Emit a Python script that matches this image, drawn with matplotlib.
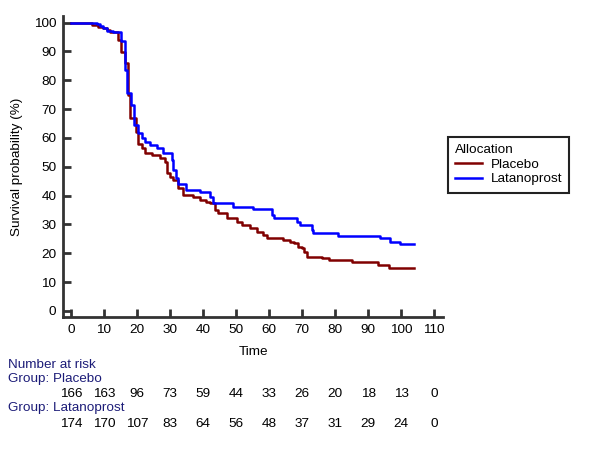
import numpy as np
import matplotlib
matplotlib.use("Agg")
import matplotlib.pyplot as plt
from matplotlib.transforms import blended_transform_factory

plt.rcParams['font.family'] = ['Liberation Sans', 'DejaVu Sans']

# ---- Kaplan-Meier steps ----
placebo_t = [0, 6.3, 8.3, 9.8, 10.8, 11.8, 14.3, 15.3, 16.4, 17.4, 17.9, 19.6, 20.4,
             21.4, 22.4, 24.5, 27, 28.5, 29, 30, 31, 32.5, 34, 37, 39, 41, 42, 43.6,
             44.6, 47.2, 50.2, 51.7, 54.2, 56.3, 58.3, 59.3, 64.3, 66.4, 67.4, 68.9,
             69.9, 70.5, 71.4, 76, 78, 85, 93, 96.2, 104]
placebo_s = [100, 99.2, 98.6, 98, 97.4, 96.8, 93.9, 89.9, 85.8, 75, 67, 62, 58,
             56.4, 54.7, 54, 53, 51.8, 47.7, 46.5, 45.4, 42.5, 40.2, 39.5, 38.5, 37.8, 37.3, 35,
             33.9, 32.1, 31, 29.8, 28.7, 27.5, 26.3, 25.2, 24.6, 24, 23.5, 22.3,
             21.7, 20.5, 18.8, 18.2, 17.7, 16.9, 16, 14.8, 14.8]

latano_t = [0, 7.8, 8.8, 9.8, 10.8, 12.8, 15.3, 16.4, 17.1, 18.2, 19.1, 20.4, 21.4,
            22.4, 23.9, 26, 28, 30.5, 31, 31.8, 32.5, 35, 39, 42, 43, 49, 55, 60.8,
            61.5, 68.4, 69.4, 72.9, 73.4, 81, 93.6, 96.7, 99.7, 104]
latano_s = [100, 99.6, 98.8, 98.2, 97.2, 96.8, 93.7, 83.5, 75.4, 71.4, 64.5, 61.6, 59.9,
            58.7, 57.5, 56.4, 54.6, 52.3, 49, 46, 44, 42, 41.4, 39.6, 37.3, 36.2, 35.2, 33.3,
            32.1, 31, 29.8, 28.1, 26.9, 26, 25.2, 24, 23.2, 23.2]

risk_times = [0, 10, 20, 30, 40, 50, 60, 70, 80, 90, 100, 110]
risk_placebo = [166, 163, 96, 73, 59, 44, 33, 26, 20, 18, 13, 0]
risk_latano = [174, 170, 107, 83, 64, 56, 48, 37, 31, 29, 24, 0]

fs = 9.7
fig = plt.figure(figsize=(6, 4.5), dpi=100)
ax = fig.add_axes([0.1055, 0.2956, 0.6325, 0.6684])

ax.step(placebo_t, placebo_s, where='post', color='#800000', lw=1.8, label='Placebo')
ax.step(latano_t, latano_s, where='post', color='#0000ff', lw=1.8, label='Latanoprost')

ax.set_xlim(-2.3, 112.6)
ax.set_ylim(-2.1, 102.2)
ax.set_xticks(risk_times)
ax.set_yticks(range(0, 101, 10))
for s in ['top', 'right']:
    ax.spines[s].set_visible(False)
for s in ['left', 'bottom']:
    ax.spines[s].set_linewidth(2)
    ax.spines[s].set_color('#333333')
ax.tick_params(direction='in', length=6, width=2, color='#333333',
               labelsize=fs, pad=5)
ax.set_xlabel('Time', fontsize=fs, labelpad=7)
ax.set_ylabel('Survival probability (%)', fontsize=fs, labelpad=8)

leg = ax.legend(title='Allocation', loc='upper left', bbox_to_anchor=(0.7467, 0.6956),
                bbox_transform=fig.transFigure, fontsize=fs, title_fontsize=fs,
                fancybox=False, framealpha=1, edgecolor='#222222', borderaxespad=0,
                handlelength=2.0, borderpad=0.55, labelspacing=0.15, handletextpad=0.6)
leg._legend_box.align = 'left'
leg.get_frame().set_linewidth(1.5)

# ---- number at risk table ----
navy = '#1c1c78'
tr = blended_transform_factory(ax.transData, fig.transFigure)
fig.text(8 / 600, 1 - 365 / 450, 'Number at risk', color=navy, fontsize=fs, va='center')
fig.text(8 / 600, 1 - 379 / 450, 'Group: Placebo', color=navy, fontsize=fs, va='center')
fig.text(8 / 600, 1 - 408 / 450, 'Group: Latanoprost', color=navy, fontsize=fs, va='center')
for t, a, b in zip(risk_times, risk_placebo, risk_latano):
    ax.text(t, 1 - 394 / 450, str(a), transform=tr, ha='center', va='center', fontsize=fs)
    ax.text(t, 1 - 424 / 450, str(b), transform=tr, ha='center', va='center', fontsize=fs)

fig.savefig('out.png', dpi=100)
